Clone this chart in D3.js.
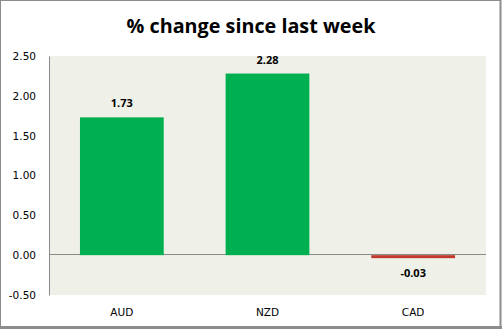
<!DOCTYPE html>
<html>
<head>
<meta charset="utf-8">
<script src="https://cdn.jsdelivr.net/npm/d3@7"></script>
<style>
  html, body { margin: 0; padding: 0; background: #fff; }
  svg { display: block; }
</style>
</head>
<body>
<div id="chart"></div>
<script>
// Weekly percentage change per currency
const categories = ["AUD", "NZD", "CAD"];
const values = [1.73, 2.28, -0.03];
const yTicks = [-0.5, 0, 0.5, 1.0, 1.5, 2.0, 2.5];
const chartTitle = "% change since last week";

const W = 502, H = 329;
const plot = { left: 49, right: 486, top: 56, bottom: 295 };

// plain hyphen for negative numbers
const fmt = d3.formatLocale({ decimal: ".", thousands: ",", grouping: [3], currency: ["", ""], minus: "-" }).format(".2f");

const svg = d3.select("#chart").append("svg")
  .attr("width", W).attr("height", H);

// outer frame
svg.append("rect").attr("x", 0).attr("y", 0).attr("width", W).attr("height", H).attr("fill", "#fff");
svg.append("rect").attr("x", 0.5).attr("y", 0.5).attr("width", W - 2).attr("height", H - 3)
  .attr("fill", "none").attr("stroke", "#8c8c8c").attr("stroke-width", 1);
svg.append("line").attr("x1", 0).attr("x2", W).attr("y1", H - 1.5).attr("y2", H - 1.5)
  .attr("stroke", "#8c8c8c").attr("stroke-width", 3);
svg.append("line").attr("x1", W - 1.5).attr("x2", W - 1.5).attr("y1", 0).attr("y2", H)
  .attr("stroke", "#8c8c8c").attr("stroke-width", 2);

// title
const title = svg.append("text")
  .attr("x", 251).attr("y", 33)
  .attr("text-anchor", "middle")
  .attr("font-family", "'Open Sans', 'Liberation Sans', sans-serif")
  .attr("font-weight", "bold")
  .attr("font-size", 20)
  .attr("fill", "#000")
  .text(chartTitle);
const tw = title.node().getComputedTextLength();
title.attr("font-size", 20 * 249 / tw);

const x = d3.scaleBand().domain(categories).range([plot.left, plot.right]).paddingInner(0.425).paddingOuter(0.2125);
const y = d3.scaleLinear().domain([-0.5, 2.5]).range([plot.bottom, plot.top]);

// plot background
svg.append("rect")
  .attr("x", plot.left).attr("y", plot.top)
  .attr("width", plot.right - plot.left).attr("height", plot.bottom - plot.top)
  .attr("fill", "#eff1e8");

// y axis
const yAxis = d3.axisLeft(y).tickValues(yTicks).tickFormat(fmt).tickSize(0).tickPadding(13);
const gy = svg.append("g").attr("transform", `translate(${plot.left},0)`).call(yAxis);
gy.select(".domain").attr("stroke", "#8a8a8a");
gy.selectAll("text")
  .attr("font-family", "'DejaVu Sans', Verdana, sans-serif")
  .attr("font-size", 10.5)
  .attr("fill", "#000");

// zero line
svg.append("line")
  .attr("x1", plot.left).attr("x2", plot.right)
  .attr("y1", Math.round(y(0)) - 0.5).attr("y2", Math.round(y(0)) - 0.5)
  .attr("stroke", "#8a8a8a").attr("stroke-width", 1);

// bars (negative bars get a minimum visible thickness)
svg.append("g").selectAll("rect").data(values).join("rect")
  .attr("x", (d, i) => x(categories[i]))
  .attr("width", x.bandwidth())
  .attr("y", d => d >= 0 ? y(d) : y(0))
  .attr("height", d => Math.max(Math.abs(y(d) - y(0)), 3))
  .attr("fill", d => d >= 0 ? "#00b050" : "#c0392b");

// value labels
svg.append("g").selectAll("text").data(values).join("text")
  .attr("x", (d, i) => x(categories[i]) + x.bandwidth() / 2)
  .attr("y", d => d >= 0 ? y(d) - 10 : y(0) + 22)
  .attr("text-anchor", "middle")
  .attr("font-family", "'Open Sans', 'Liberation Sans', sans-serif")
  .attr("font-weight", "bold")
  .attr("font-size", 11)
  .attr("fill", "#000")
  .text(d => fmt(d));

// category labels
svg.append("g").selectAll("text").data(categories).join("text")
  .attr("x", d => x(d) + x.bandwidth() / 2)
  .attr("y", 316)
  .attr("text-anchor", "middle")
  .attr("font-family", "'DejaVu Sans', Verdana, sans-serif")
  .attr("font-size", 10.5)
  .attr("fill", "#000")
  .text(d => d);
</script>
</body>
</html>
